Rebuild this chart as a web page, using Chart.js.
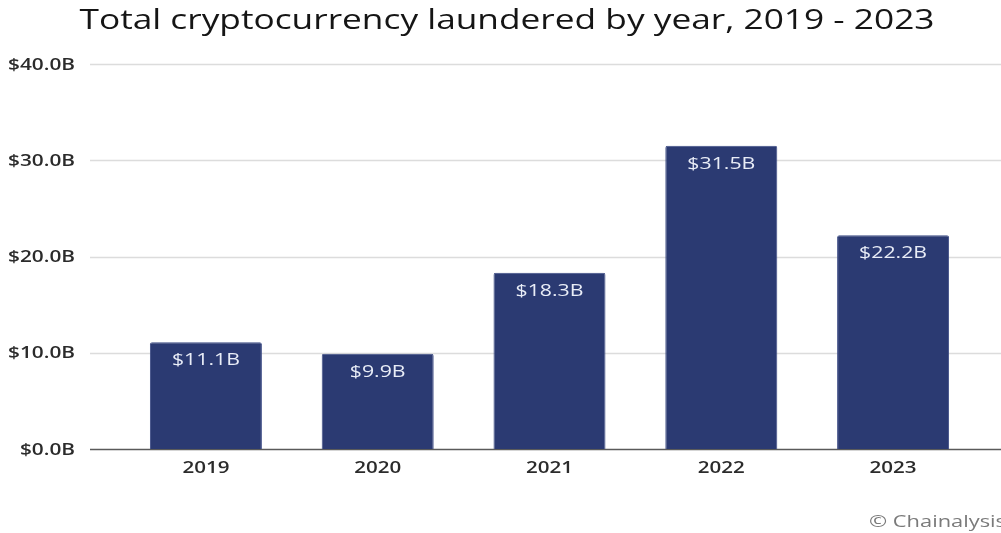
<!DOCTYPE html>
<html>
<head>
<meta charset="utf-8">
<script src="https://cdn.jsdelivr.net/npm/chart.js@4/dist/chart.umd.min.js"></script>
<style>
  html, body { margin: 0; padding: 0; background: #ffffff; }
  #wrap { width: 1001px; height: 533px; }
</style>
</head>
<body>
<div id="wrap"><canvas id="chart" width="1001" height="533"></canvas></div>
<script>
// Annual totals of laundered cryptocurrency, in billions of USD
const years = ['2019', '2020', '2021', '2022', '2023'];
const launderedBillions = [11.1, 9.9, 18.3, 31.5, 22.2];
const yTicks = [0, 10, 20, 30, 40];

const titleText = 'Total cryptocurrency laundered by year, 2019 - 2023';
const creditText = '\u00A9 Chainalysis';
const FONT = '"Open Sans", "DejaVu Sans", sans-serif';

const fmt = v => '$' + v.toFixed(1) + 'B';

// Draws text with a horizontal stretch so that `sample` would occupy `sampleWidth` px
function wideText(ctx, text, x, y, align, font, color, sample, sampleWidth) {
  ctx.save();
  ctx.font = font;
  ctx.fillStyle = color;
  ctx.textBaseline = 'middle';
  const sx = sampleWidth / ctx.measureText(sample).width;
  const w = ctx.measureText(text).width * sx;
  let left = x;
  if (align === 'center') left = x - w / 2;
  else if (align === 'right') left = x - w;
  ctx.translate(left, y);
  ctx.scale(sx, 1);
  ctx.textAlign = 'left';
  ctx.fillText(text, 0, 0);
  ctx.restore();
}

// Horizontal grid lines spanning past the plot, with a darker baseline
const gridPlugin = {
  id: 'fullGrid',
  beforeDatasetsDraw(chart) {
    const { ctx, scales: { y } } = chart;
    ctx.save();
    yTicks.forEach(t => {
      const py = Math.round(y.getPixelForValue(t)) + 0.5;
      ctx.beginPath();
      ctx.moveTo(90, py);
      ctx.lineTo(chart.width, py);
      ctx.lineWidth = 1.5;
      ctx.strokeStyle = t === 0 ? '#5a5a5a' : '#dcdcdc';
      ctx.stroke();
    });
    ctx.restore();
  }
};

// Title, axis labels, value labels inside bars and the source credit
const textPlugin = {
  id: 'texts',
  afterDatasetsDraw(chart) {
    const { ctx, scales: { x, y } } = chart;

    wideText(ctx, titleText, 507, 21, 'center', '28px ' + FONT, '#151515', titleText, 855);

    yTicks.forEach(t => {
      wideText(ctx, fmt(t), 75, y.getPixelForValue(t) + 1, 'right',
        '600 16px ' + FONT, '#2b2b2b', '$40.0B', 67);
    });

    years.forEach((yr, i) => {
      wideText(ctx, yr, x.getPixelForValue(i), 468, 'center',
        '600 16px ' + FONT, '#2b2b2b', '2019', 47);
    });

    const meta = chart.getDatasetMeta(0);
    meta.data.forEach((bar, i) => {
      wideText(ctx, fmt(launderedBillions[i]), bar.x, bar.y + 18, 'center',
        '17px ' + FONT, '#e9edf7', '$11.1B', 68);
    });

    wideText(ctx, creditText, 869, 522, 'left', '16px ' + FONT, '#7a7a7a', creditText, 137);
  }
};

new Chart(document.getElementById('chart'), {
  type: 'bar',
  data: {
    labels: years,
    datasets: [{
      data: launderedBillions,
      backgroundColor: '#2b3a72',
      borderColor: '#3d4c85',
      borderWidth: 1,
      borderSkipped: 'bottom',
      borderRadius: 2,
      categoryPercentage: 1,
      barPercentage: 0.652
    }]
  },
  options: {
    responsive: false,
    animation: false,
    layout: { padding: { top: 64, right: 22, bottom: 44, left: 0 } },
    plugins: { legend: { display: false }, tooltip: { enabled: false }, title: { display: false } },
    scales: {
      x: {
        grid: { display: false, drawTicks: false },
        border: { display: false },
        ticks: { display: false },
        afterFit(s) { s.height = 40; }
      },
      y: {
        min: 0,
        max: 40,
        grid: { display: false, drawTicks: false },
        border: { display: false },
        afterBuildTicks(s) { s.ticks = yTicks.map(v => ({ value: v })); },
        ticks: { display: false },
        afterFit(s) { s.width = 120; }
      }
    }
  },
  plugins: [gridPlugin, textPlugin]
});
</script>
</body>
</html>
